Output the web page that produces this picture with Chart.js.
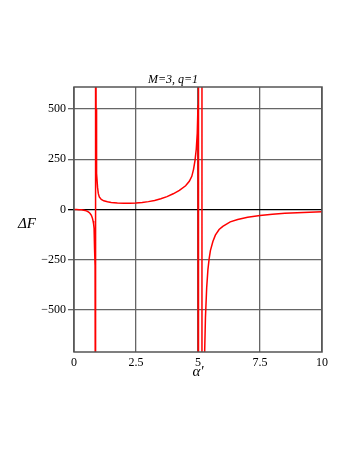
<!DOCTYPE html>
<html>
<head>
<meta charset="utf-8">
<script src="https://cdn.jsdelivr.net/npm/chart.js@4.4.1/dist/chart.umd.min.js"></script>
<style>
  html, body { margin: 0; padding: 0; background: #fff; }
  #wrap { width: 354px; height: 458px; position: relative; }
</style>
</head>
<body>
<div id="wrap"><canvas id="chart"></canvas></div>
<script>
// values (asymptotes drawn as off-scale jumps)
const alpha = [
  0, 0.1, 0.2, 0.3, 0.4, 0.5, 0.55, 0.6, 0.65, 0.7, 0.74, 0.77, 0.79, 0.81, 0.82, 0.83, 0.84, 0.85, 0.86, 0.87,
  0.88, 0.89, 0.9, 0.92, 0.95, 0.98, 1.02, 1.1, 1.2, 1.35, 1.5, 1.75, 2.0, 2.25, 2.5, 2.75, 3.0, 3.25, 3.5, 3.75,
  4.0, 4.25, 4.5, 4.65, 4.75, 4.82, 4.88, 4.93, 4.97, 5.0, 5.02, 5.02, 5.16, 5.16, 5.16, 5.24,
  5.27, 5.3, 5.35, 5.4, 5.45, 5.5, 5.6, 5.7, 5.85, 6.0, 6.3, 6.6, 7.0, 7.5, 8.0, 8.5, 9.0, 9.5, 10.0
];
const deltaF = [
  0, 0, -1, -2, -4, -7, -10, -14, -20, -29, -42, -58, -72, -95, -118, -150, -200, -280, -450, -2000,
  2000, 500, 300, 180, 110, 80, 62, 50, 43, 38, 35, 32, 31, 31, 32, 35, 39, 45, 53, 64,
  78, 95, 118, 140, 165, 200, 245, 300, 380, 520, 2000, -2000, -2000, 2000, -2000, -2000,
  -700, -540, -390, -300, -245, -205, -160, -128, -100, -84, -62, -50, -39, -30, -24, -19, -16, -14, -12
];
const xTicks = [0, 2.5, 5, 7.5, 10];
const yTicks = [-500, -250, 0, 250, 500];
const plotTitle = "M=3, q=1";
const xTitle = "\u03B1'";
const yTitle = "\u0394F";

const serif = "'Liberation Serif', 'DejaVu Serif', serif";

const framePlugin = {
  id: "frameAndTitles",
  afterDraw(chart) {
    const { ctx, chartArea: a } = chart;
    ctx.save();
    ctx.strokeStyle = "#555";
    ctx.lineWidth = 1.5;
    ctx.strokeRect(a.left, a.top, a.right - a.left, a.bottom - a.top);

    ctx.fillStyle = "#000";
    ctx.textAlign = "center";
    ctx.textBaseline = "alphabetic";
    ctx.font = "italic 12px " + serif;
    ctx.fillText(plotTitle, chart.width / 2 - 4, a.top - 4);

    ctx.font = "italic 15px " + serif;
    ctx.fillText(yTitle, 27, (a.top + a.bottom) / 2 + 8);
    ctx.fillText(xTitle, (a.left + a.right) / 2, a.bottom + 24);
    ctx.restore();
  }
};

new Chart(document.getElementById("chart"), {
  type: "line",
  data: {
    datasets: [
      {
        data: alpha.map((x, i) => ({ x: x, y: deltaF[i] })),
        borderColor: "#ff0000",
        borderWidth: 1.5,
        pointRadius: 0,
        tension: 0,
        fill: false,
      },
    ],
  },
  options: {
    responsive: true,
    maintainAspectRatio: false,
    animation: false,
    layout: { padding: { left: 0, right: 32, top: 87, bottom: 76 } },
    plugins: { legend: { display: false }, tooltip: { enabled: false } },
    scales: {
      x: {
        type: "linear",
        min: 0,
        max: 10,
        afterBuildTicks: (s) => { s.ticks = xTicks.map((v) => ({ value: v })); },
        afterFit: (s) => { s.height = 30; },
        grid: { color: "#666", lineWidth: 1.3, drawTicks: false },
        border: { display: false },
        ticks: {
          padding: 4,
          color: "#000",
          maxRotation: 0,
          font: { family: serif, size: 12 },
          callback: (v) => String(v),
        },
      },
      y: {
        min: -710,
        max: 610,
        afterBuildTicks: (s) => { s.ticks = yTicks.map((v) => ({ value: v })); },
        afterFit: (s) => { s.width = 74; },
        grid: {
          color: (c) => (c.tick && c.tick.value === 0 ? "#000" : "#666"),
          lineWidth: 1.3,
          drawTicks: true,
          tickLength: 6,
        },
        border: { display: false },
        ticks: {
          padding: 2,
          color: "#000",
          font: { family: serif, size: 12 },
          callback: (v) => (v < 0 ? "\u2212" + Math.abs(v) : String(v)),
        },
      },
    },
  },
  plugins: [framePlugin],
});
</script>
</body>
</html>
